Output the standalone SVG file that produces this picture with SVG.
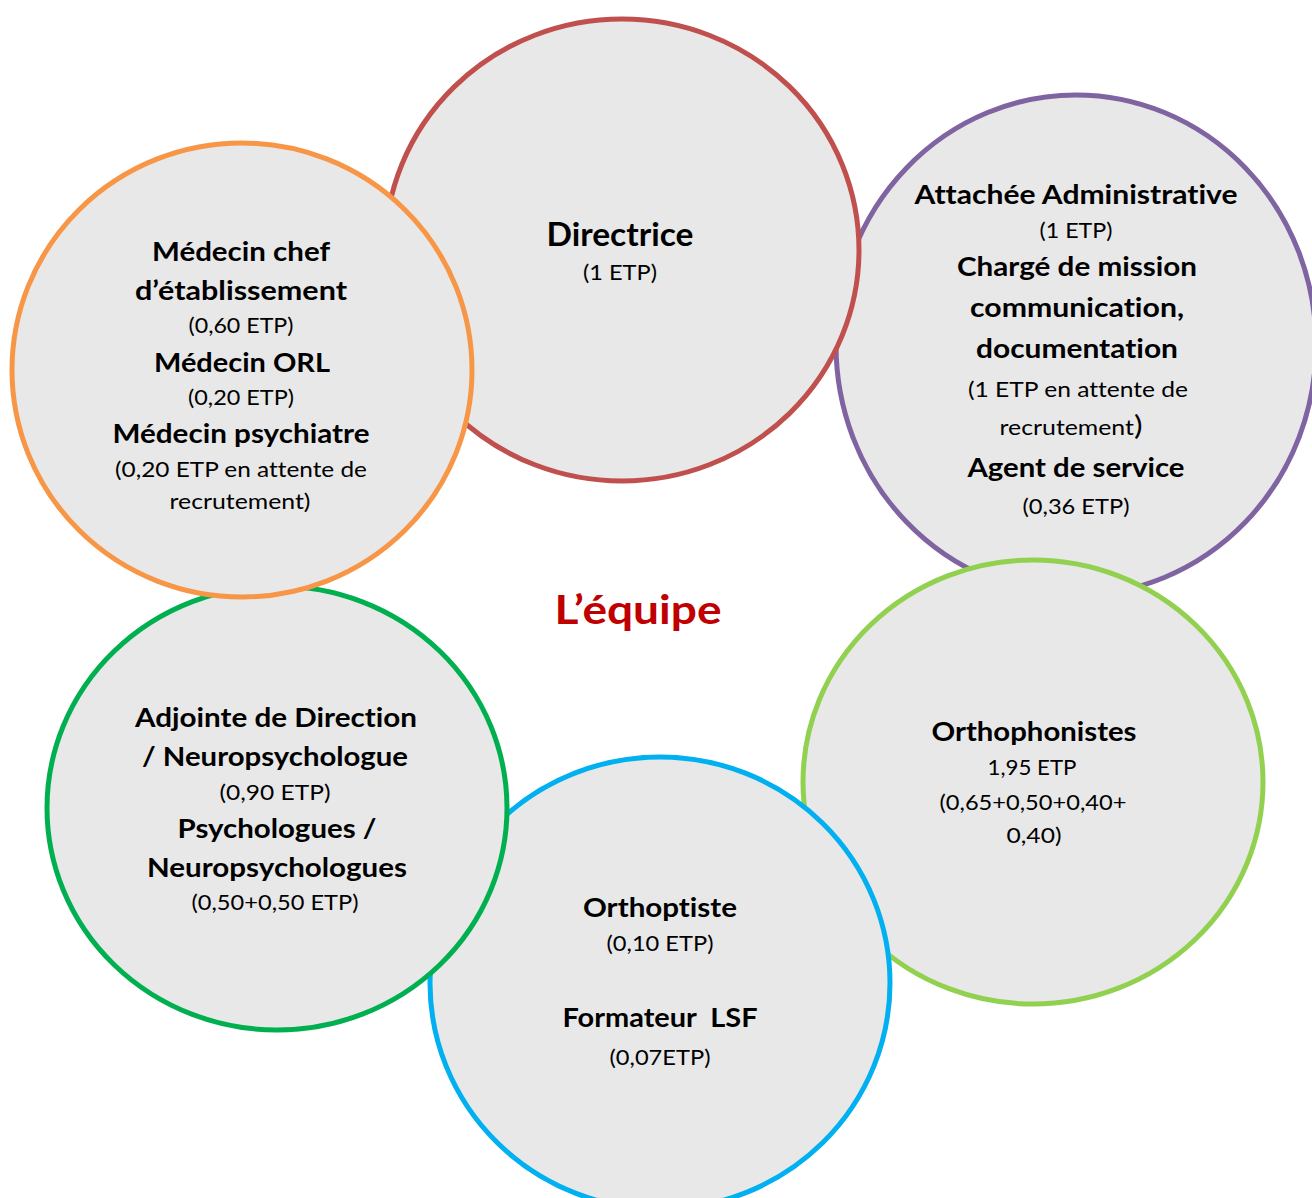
<svg xmlns="http://www.w3.org/2000/svg" width="1312" height="1198" viewBox="0 0 1312 1198">
<style>
.c{fill:#E8E8E8;stroke-width:5}
text{font-family:Lato,"Liberation Sans","DejaVu Sans",sans-serif;text-anchor:middle;fill:#000;font-variant-ligatures:none}
.b{font-weight:bold;font-size:27px}
.r{font-weight:normal;font-size:21px}
.t{font-weight:bold;font-size:40px;fill:#C00000}
</style>
<rect x="0" y="0" width="1312" height="1198" fill="#FFFFFF"/>
<g id="node-attachee">
<ellipse class="c" cx="1076" cy="345" rx="240" ry="250" stroke="#8064A2"/>
<text class="b" x="1076" y="204" textLength="323" lengthAdjust="spacingAndGlyphs">Attachée Administrative</text>
<text class="r" x="1076" y="238" textLength="73" lengthAdjust="spacingAndGlyphs">(1 ETP)</text>
<text class="b" x="1077" y="276" textLength="240" lengthAdjust="spacingAndGlyphs">Chargé de mission</text>
<text class="b" x="1077" y="317" textLength="214" lengthAdjust="spacingAndGlyphs">communication,</text>
<text class="b" x="1077" y="358" textLength="202" lengthAdjust="spacingAndGlyphs">documentation</text>
<text class="r" x="1078" y="397" textLength="220" lengthAdjust="spacingAndGlyphs">(1 ETP en attente de</text>
<text class="r" x="1071" y="435" textLength="143" lengthAdjust="spacingAndGlyphs">recrutement<tspan font-size="27">)</tspan></text>
<text class="b" x="1076" y="477" textLength="217" lengthAdjust="spacingAndGlyphs">Agent de service</text>
<text class="r" x="1076" y="514" textLength="107" lengthAdjust="spacingAndGlyphs">(0,36 ETP)</text>
</g>
<g id="node-directrice">
<ellipse class="c" cx="622" cy="250" rx="237" ry="231" stroke="#C0504D"/>
<text class="b" x="620" y="246" style="font-size:32px" textLength="147" lengthAdjust="spacingAndGlyphs">Directrice</text>
<text class="r" x="620" y="280" textLength="74" lengthAdjust="spacingAndGlyphs">(1 ETP)</text>
</g>
<g id="node-orthophonistes">
<ellipse class="c" cx="1033" cy="782" rx="230" ry="222" stroke="#92D050"/>
<text class="b" x="1034" y="741" textLength="205" lengthAdjust="spacingAndGlyphs">Orthophonistes</text>
<text class="r" x="1032" y="775" textLength="89" lengthAdjust="spacingAndGlyphs">1,95 ETP</text>
<text class="r" x="1033" y="810" textLength="187" lengthAdjust="spacingAndGlyphs">(0,65+0,50+0,40+</text>
<text class="r" x="1034" y="843" textLength="55" lengthAdjust="spacingAndGlyphs">0,40)</text>
</g>
<g id="node-orthoptiste">
<ellipse class="c" cx="660" cy="983" rx="230" ry="226" stroke="#00B0F0"/>
<text class="b" x="660" y="917" textLength="154" lengthAdjust="spacingAndGlyphs">Orthoptiste</text>
<text class="r" x="660" y="951" textLength="107" lengthAdjust="spacingAndGlyphs">(0,10 ETP)</text>
<text class="b" x="660" y="1027" xml:space="preserve" textLength="195" lengthAdjust="spacingAndGlyphs">Formateur  LSF</text>
<text class="r" x="660" y="1065" textLength="101" lengthAdjust="spacingAndGlyphs">(0,07ETP)</text>
</g>
<g id="node-adjointe">
<ellipse class="c" cx="277" cy="808" rx="230" ry="222" stroke="#00B050"/>
<text class="b" x="276" y="727" textLength="282" lengthAdjust="spacingAndGlyphs">Adjointe de Direction</text>
<text class="b" x="275" y="766" textLength="266" lengthAdjust="spacingAndGlyphs">/ Neuropsychologue</text>
<text class="r" x="275" y="800" textLength="111" lengthAdjust="spacingAndGlyphs">(0,90 ETP)</text>
<text class="b" x="277" y="838" textLength="199" lengthAdjust="spacingAndGlyphs">Psychologues /</text>
<text class="b" x="277" y="877" textLength="260" lengthAdjust="spacingAndGlyphs">Neuropsychologues</text>
<text class="r" x="275" y="910" textLength="167" lengthAdjust="spacingAndGlyphs">(0,50+0,50 ETP)</text>
</g>
<g id="node-medecins">
<ellipse class="c" cx="242" cy="370" rx="230" ry="227" stroke="#F79646"/>
<text class="b" x="241" y="261" textLength="178" lengthAdjust="spacingAndGlyphs">Médecin chef</text>
<text class="b" x="241" y="300" textLength="212" lengthAdjust="spacingAndGlyphs">d’établissement</text>
<text class="r" x="241" y="333" textLength="105" lengthAdjust="spacingAndGlyphs">(0,60 ETP)</text>
<text class="b" x="242" y="372" textLength="176" lengthAdjust="spacingAndGlyphs">Médecin ORL</text>
<text class="r" x="241" y="405" textLength="106" lengthAdjust="spacingAndGlyphs">(0,20 ETP)</text>
<text class="b" x="241" y="443" textLength="257" lengthAdjust="spacingAndGlyphs">Médecin psychiatre</text>
<text class="r" x="241" y="477" textLength="252" lengthAdjust="spacingAndGlyphs">(0,20 ETP en attente de</text>
<text class="r" x="240" y="509" textLength="141" lengthAdjust="spacingAndGlyphs">recrutement)</text>
</g>
<g id="connectors"></g>
<g id="title">
<text class="t" x="638" y="624" textLength="167" lengthAdjust="spacingAndGlyphs">L’équipe</text>
</g>
</svg>
